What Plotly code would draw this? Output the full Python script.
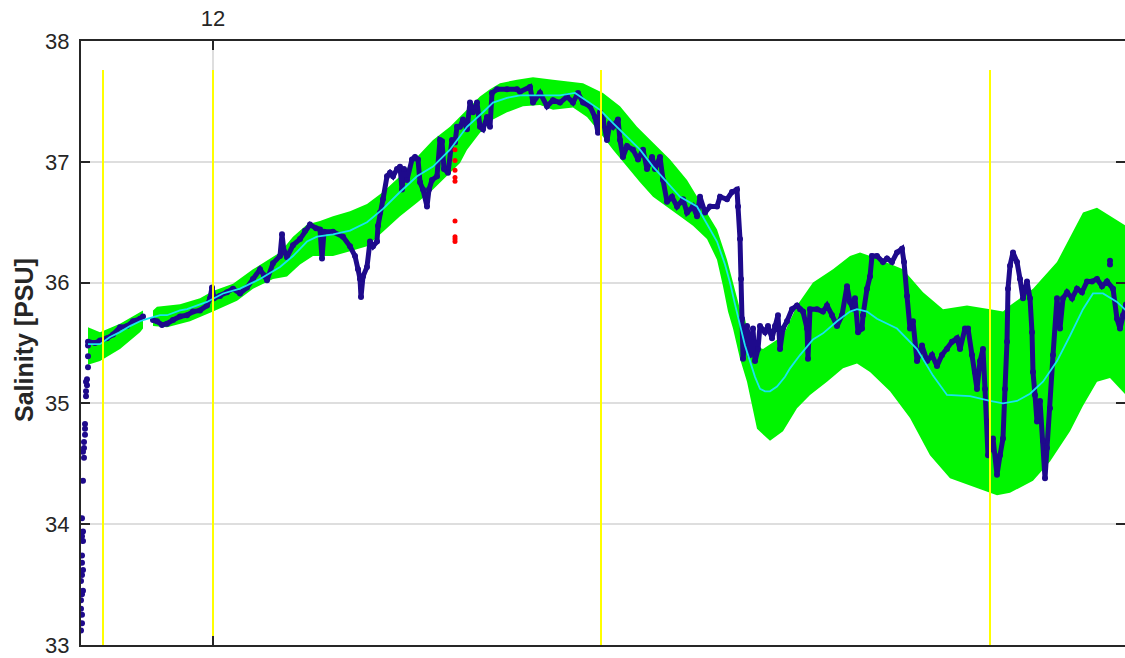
import plotly.graph_objects as go

# ---- along-track position (x) and salinity (PSU) ----

# initial profile samples while the instrument settles
cast_x = [-1.2, -1.1, -1.1, -1.2, -1.2, -1.1, -1.0, -1.2, -1.1, -1.0, -1.1, -1.1, -1.0, -1.0,
          -1.1, -1.0, -0.9, -0.9, -0.8, -0.8, -0.7, -0.7, -0.6, -0.6, -0.5, -0.5, -0.5,
          -1.1, -1.0, -0.9, -0.8, -0.7]
cast_s = [33.12, 33.18, 33.25, 33.30, 33.37, 33.42, 33.45, 33.53, 33.58, 33.62, 33.68, 33.74, 33.86, 33.94,
          34.05, 34.36, 34.55, 34.63, 34.74, 34.83, 35.06, 35.10, 35.15, 35.20, 35.30, 35.39, 35.48,
          33.90, 34.60, 34.68, 34.79, 35.18]

# underway salinity record (None = data gap)
track_x = [-0.5, 0.2, 0.7, 1.4, 2.0, 2.7, 3.4, 4.0, 4.7, 5.0, None,
           6.0, 6.4, 6.9, 7.4, 8.0, 8.7, 9.4, 10.0, 10.7, 11.4, 11.7, 11.9, 12.1, 12.7, 13.4, 14.0,
           14.7, 15.4, 16.0, 16.7, 17.1, 17.4, 18.0, 18.7, 18.9, 19.1, 19.4, 20.0, 20.7, 21.2, 21.7,
           22.3, 22.7, 22.9, 23.1, 24.0, 25.0, 25.7, 26.2, 26.5, 26.7, 26.8, 27.0, 27.4, 27.7, 28.0,
           28.4, 28.5, 28.7, 29.0, 29.4, 29.7, 30.0, 30.4, 30.7, 30.9, 31.1, 31.4, 31.9, 32.2, 32.5,
           32.7, 33.0, 33.4, 33.6, 33.9, 34.4, 34.7, 34.9, 35.1, 35.5, 35.9, 36.2, 36.4, 36.7, 37.0,
           37.4, 37.7, 38.0, 38.4, 38.7, 39.0, 39.4, 39.7, 39.9, 40.4, 41.4, 42.4, 42.7, 43.7, 44.0,
           44.7, 45.4, 46.0, 46.7, 47.4, 48.0, 48.5, 49.0, 49.7, 50.2, 50.5, 50.7, 51.0, 51.4, 51.7,
           52.0, 52.5, 52.7, 53.0, 53.4, 54.0, 54.5, 55.0, 55.4, 55.9, 56.2, 56.7, 57.0, 57.4, 57.9,
           58.4, 59.0, 59.4, 60.0, 60.4, 60.7, 61.2, 61.7, 62.4, 62.7, 63.4, 63.9, 64.4, 64.5, 64.7,
           64.8, 64.9, 65.0, 65.4, 65.7, 66.0, 66.2, 66.5, 66.7, 67.2, 67.5, 67.9, 68.2, 68.5, 68.7,
           69.0, 69.4, 69.9, 70.4, 70.7, 71.0, 71.4, 71.5, 71.7, 72.4, 73.0, 73.4, 73.9, 74.4, 74.9,
           75.4, 75.7, 76.0, 76.2, 76.5, 76.9, 77.0, 77.4, 77.7, 77.9, 78.4, 79.0, 79.4, 79.9, 80.4,
           80.9, 81.1, 81.4, 81.7, 82.0, 82.4, 82.9, 83.4, 83.9, 84.4, 84.9, 85.4, 85.9, 86.4, 86.7,
           87.2, 87.5, 87.9, 88.2, 88.4, 88.7, 89.0, 89.2, 89.4, 89.5, 90.0, 90.4, 90.7, 91.0, 91.2,
           91.4, 91.5, 91.7, 92.0, 92.4, 92.7, 93.0, 93.4, 93.7, 93.9, 94.0, 94.2, 94.4, 94.7, 95.0,
           95.2, 95.4, 95.7, 96.0, 96.4, 96.7, 97.0, 97.4, 97.9, 98.4, 98.9, 99.4, 99.9, 100.4, 100.9,
           101.4, 102.0, 102.4, 102.7, 103.0, 103.3, 103.6, 104.2, 104.8]
track_s = [35.51, 35.50, 35.52, 35.54, 35.57, 35.63, 35.64, 35.68, 35.70, 35.72, None,
           35.69, 35.68, 35.65, 35.66, 35.69, 35.72, 35.73, 35.76, 35.77, 35.81, 35.87, 35.96, 35.87, 35.89, 35.92, 35.95,
           35.91, 35.96, 36.03, 36.11, 36.06, 36.02, 36.16, 36.22, 36.40, 36.26, 36.21, 36.31, 36.36, 36.43, 36.48,
           36.45, 36.44, 36.20, 36.42, 36.42, 36.38, 36.30, 36.22, 36.11, 36.03, 35.88, 36.05, 36.13, 36.34, 36.30,
           36.34, 36.47, 36.58, 36.69, 36.88, 36.91, 36.88, 36.94, 36.96, 36.77, 36.94, 36.85, 37.02, 37.04, 37.02,
           36.83, 36.77, 36.63, 36.77, 36.85, 36.88, 37.18, 37.17, 36.94, 36.91, 37.18, 37.16, 37.29, 37.29, 37.35,
           37.27, 37.49, 37.41, 37.49, 37.29, 37.27, 37.37, 37.29, 37.57, 37.60, 37.60, 37.60, 37.58, 37.62, 37.49,
           37.57, 37.46, 37.51, 37.49, 37.54, 37.49, 37.57, 37.49, 37.46, 37.37, 37.24, 37.41, 37.35, 37.18, 37.32,
           37.29, 37.35, 37.18, 37.04, 37.13, 37.10, 37.02, 37.10, 36.94, 37.04, 36.94, 37.04, 36.85, 36.67, 36.71,
           36.63, 36.69, 36.58, 36.63, 36.55, 36.71, 36.58, 36.63, 36.63, 36.71, 36.69, 36.75, 36.77, 36.63, 36.36,
           36.03, 35.70, 35.37, 35.64, 35.40, 35.62, 35.35, 35.45, 35.64, 35.59, 35.64, 35.54, 35.64, 35.73, 35.45,
           35.62, 35.68, 35.78, 35.81, 35.78, 35.76, 35.62, 35.37, 35.78, 35.78, 35.76, 35.81, 35.73, 35.64, 35.73,
           35.97, 35.84, 35.78, 35.87, 35.59, 35.62, 35.73, 35.95, 36.05, 36.22, 36.22, 36.17, 36.20, 36.17, 36.25,
           36.28, 36.17, 35.89, 35.62, 35.68, 35.35, 35.48, 35.35, 35.40, 35.31, 35.40, 35.45, 35.51, 35.54, 35.45,
           35.62, 35.62, 35.40, 35.26, 35.12, 35.35, 35.45, 35.12, 34.85, 34.57, 34.71, 34.41, 34.57, 34.71, 35.12,
           35.51, 35.95, 36.14, 36.25, 36.17, 36.03, 35.87, 36.01, 35.87, 35.59, 35.26, 35.07, 34.85, 35.02, 34.69,
           34.38, 34.63, 34.96, 35.40, 35.87, 35.62, 35.87, 35.92, 35.87, 35.95, 35.92, 36.01, 36.01, 36.03, 35.97,
           36.01, 35.95, 35.70, 35.62, 35.73, 35.82, 35.84, 35.86, 35.85]

# isolated outlying samples in the record
spike_x = [101.7, 101.7]
spike_s = [36.18, 36.15]

# smoothed salinity
mean_x = [-0.5, 0.2, 0.7, 1.7, 2.7, 3.7, 4.7, 5.4, 6.7, 7.4, 8.7, 9.4, 10.7, 11.4, 13.0, 14.7, 16.7,
          18.7, 20.0, 21.4, 22.4, 24.0, 25.7, 27.4, 29.0, 30.7, 32.4, 34.0, 35.7, 37.4, 39.0, 40.0,
          41.4, 42.7, 44.7, 46.7, 48.2, 49.4, 50.7, 52.0, 53.4, 54.7, 56.0, 57.4, 58.7, 60.4, 61.4,
          62.4, 63.2, 63.7, 64.2, 64.7, 65.2, 65.7, 66.2, 66.7, 67.2, 67.7, 68.4, 69.2, 69.7, 70.7,
          72.0, 72.4, 73.0, 74.4, 75.7, 76.4, 77.4, 78.4, 80.4, 82.4, 84.0, 85.4, 87.7, 89.7, 91.0,
          92.4, 93.7, 95.0, 96.4, 97.7, 99.0, 100.0, 101.0, 102.4, 103.3, 104.8]
mean_s = [35.49, 35.49, 35.49, 35.55, 35.59, 35.64, 35.68, 35.70, 35.73, 35.73, 35.77, 35.78, 35.82, 35.84, 35.91, 35.95, 36.03,
          36.13, 36.22, 36.34, 36.38, 36.40, 36.43, 36.50, 36.61, 36.75, 36.88, 36.96, 37.10, 37.29, 37.41, 37.49,
          37.53, 37.55, 37.55, 37.55, 37.57, 37.50, 37.43, 37.32, 37.21, 37.10, 36.96, 36.83, 36.71, 36.63, 36.48,
          36.34, 36.15, 36.00, 35.82, 35.64, 35.48, 35.35, 35.22, 35.12, 35.10, 35.10, 35.14, 35.22, 35.29, 35.40,
          35.53, 35.55, 35.58, 35.68, 35.76, 35.78, 35.76, 35.70, 35.62, 35.45, 35.23, 35.07, 35.06, 35.02, 35.00,
          35.02, 35.08, 35.18, 35.35, 35.56, 35.78, 35.91, 35.91, 35.84, 35.77, 35.70]

# envelope around the smoothed salinity (None = data gap)
upper_x = [-0.5, 0.7, 2.7, 4.7, 5.0, None,
           6.0, 6.4, 8.7, 10.7, 12.0, 14.0, 16.0, 18.7, 20.0, 21.4, 22.7, 24.0, 25.7, 27.4, 29.0,
           30.7, 32.4, 34.0, 35.7, 37.4, 38.7, 39.7, 40.7, 42.4, 44.0, 46.0, 49.0, 51.0, 52.7, 54.4,
           56.0, 57.7, 59.4, 61.0, 62.4, 63.4, 64.0, 64.7, 65.2, 65.7, 67.0, 69.0, 70.4, 72.0, 74.0,
           75.7, 76.7, 78.4, 81.0, 83.0, 85.0, 87.4, 89.7, 91.0, 91.7, 94.0, 96.4, 98.0, 99.0, 100.4,
           101.7, 103.3, 104.8]
upper_s = [35.63, 35.59, 35.66, 35.76, 35.77, None,
           35.77, 35.80, 35.82, 35.87, 35.93, 35.99, 36.11, 36.25, 36.38, 36.48, 36.51, 36.55, 36.59, 36.65, 36.75,
           36.88, 37.04, 37.18, 37.29, 37.43, 37.54, 37.60, 37.65, 37.68, 37.70, 37.68, 37.65, 37.57, 37.46, 37.29,
           37.16, 37.02, 36.85, 36.63, 36.44, 36.19, 35.99, 35.78, 35.70, 35.49, 35.45, 35.56, 35.81, 36.00, 36.11,
           36.22, 36.25, 36.20, 36.11, 35.92, 35.78, 35.81, 35.78, 35.76, 35.81, 35.95, 36.17, 36.42, 36.58, 36.62,
           36.55, 36.47, 36.40]
lower_x = [-0.5, 0.7, 2.7, 4.7, 5.0, None,
           6.0, 7.4, 9.7, 12.0, 14.4, 16.0, 18.0, 19.4, 20.7, 22.0, 24.0, 25.7, 27.4, 29.0, 30.7,
           32.4, 34.0, 35.7, 36.7, 37.4, 38.7, 40.0, 41.4, 43.0, 44.7, 46.0, 48.0, 49.4, 50.7, 52.0,
           53.4, 54.7, 56.0, 57.4, 58.7, 60.0, 61.4, 62.4, 63.0, 63.5, 64.0, 64.7, 65.4, 66.4, 67.7,
           69.0, 70.4, 71.7, 73.4, 75.0, 76.4, 77.7, 79.7, 81.7, 83.7, 85.7, 88.4, 90.4, 91.7, 94.0,
           95.7, 97.7, 99.0, 100.4, 101.7, 103.3, 104.8]
lower_s = [35.32, 35.35, 35.45, 35.59, 35.62, None,
           35.64, 35.63, 35.68, 35.76, 35.85, 35.95, 36.03, 36.05, 36.15, 36.22, 36.22, 36.26, 36.30, 36.42, 36.55,
           36.66, 36.77, 36.91, 36.99, 37.10, 37.24, 37.35, 37.41, 37.46, 37.47, 37.43, 37.45, 37.37, 37.24, 37.10,
           36.96, 36.83, 36.71, 36.63, 36.55, 36.47, 36.36, 36.19, 35.97, 35.76, 35.62, 35.37, 35.18, 34.79, 34.69,
           34.77, 34.96, 35.07, 35.18, 35.29, 35.33, 35.26, 35.10, 34.88, 34.57, 34.38, 34.30, 34.24, 34.26, 34.36,
           34.52, 34.77, 34.98, 35.18, 35.21, 35.07, 34.98]

# flagged samples
flag_x = [36.2, 36.2, 36.2, 36.2, 36.2, 36.2, 36.2, 36.2, 36.2]
flag_s = [37.10, 37.01, 36.93, 36.87, 36.84, 36.51, 36.38, 36.36, 36.34]

# event markers along the track
marker_x = [1.0, 12.0, 50.8, 89.7]
marker_top = 37.76

Y_TICKS = [33, 34, 35, 36, 37, 38]
X_TICKS = [12]
X_TICKTEXT = ["12"]
X_RANGE = [-1.2, 104.7]
Y_RANGE = [33, 38]
RIGHT_TICK_POS = 0.9858  # paper position of the right-hand tick column

NAVY = "#1e0a8c"
GREEN = "#00f500"
CYAN = "#19e3f0"
AXIS = "#262626"
GRID = "#dedede"
FONT = "Liberation Sans, Arial, Helvetica, sans-serif"


def segments(xs, ys):
    out, cx, cy = [], [], []
    for a, b in zip(xs, ys):
        if a is None:
            out.append((cx, cy))
            cx, cy = [], []
        else:
            cx.append(a)
            cy.append(b)
    out.append((cx, cy))
    return out


fig = go.Figure()

# envelope band, one closed polygon per data segment
for (ux, us), (lx, ls) in zip(segments(upper_x, upper_s), segments(lower_x, lower_s)):
    fig.add_trace(go.Scatter(
        x=ux + lx[::-1], y=us + ls[::-1], mode="lines", fill="toself",
        fillcolor=GREEN, line=dict(width=0, color=GREEN), hoverinfo="skip", showlegend=False))

# initial samples
fig.add_trace(go.Scatter(x=cast_x, y=cast_s, mode="markers",
                         marker=dict(color=NAVY, size=6), showlegend=False))

# salinity record
fig.add_trace(go.Scatter(x=track_x, y=track_s, mode="lines+markers", connectgaps=False,
                         line=dict(color=NAVY, width=5), marker=dict(color=NAVY, size=6),
                         showlegend=False))
fig.add_trace(go.Scatter(x=spike_x, y=spike_s, mode="markers",
                         marker=dict(color=NAVY, size=6), showlegend=False))

# smoothed line
fig.add_trace(go.Scatter(x=mean_x, y=mean_s, mode="lines",
                         line=dict(color=CYAN, width=1.8), showlegend=False))

# flagged samples
fig.add_trace(go.Scatter(x=flag_x, y=flag_s, mode="markers",
                         marker=dict(color="#ff0000", size=5), showlegend=False))

# vertical event markers
vx, vy = [], []
for m in marker_x:
    vx += [m, m, None]
    vy += [Y_RANGE[0], marker_top, None]
fig.add_trace(go.Scatter(x=vx, y=vy, mode="lines", line=dict(color="#ffff00", width=2),
                         hoverinfo="skip", showlegend=False))

# empty trace so the right-hand tick column is drawn
fig.add_trace(go.Scatter(x=[None], y=[None], yaxis="y2", showlegend=False, hoverinfo="skip"))

tick_style = dict(ticks="inside", ticklen=9, tickwidth=1.5, tickcolor=AXIS,
                  tickfont=dict(family=FONT, size=22, color=AXIS))

# the axes box runs past the right edge of the page; only the left part is shown
fig.update_layout(
    width=1140, height=658,
    margin=dict(l=81, r=0, t=41, b=11),
    paper_bgcolor="white", plot_bgcolor="white",
    xaxis=dict(side="top", range=X_RANGE, tickmode="array", tickvals=X_TICKS, ticktext=X_TICKTEXT,
               showline=True, linecolor=AXIS, linewidth=2, mirror="ticks",
               showgrid=True, gridcolor=GRID, gridwidth=1.5, zeroline=False,
               ticklabelstandoff=4, ticklabeloverflow="allow", **tick_style),
    yaxis=dict(range=Y_RANGE, tickmode="array", tickvals=Y_TICKS,
               showline=True, linecolor=AXIS, linewidth=2, mirror=False,
               showgrid=True, gridcolor=GRID, gridwidth=1.5, zeroline=False,
               ticklabelstandoff=5, ticklabeloverflow="allow", **tick_style),
    yaxis2=dict(overlaying="y", side="right", anchor="free", position=RIGHT_TICK_POS,
                range=Y_RANGE, tickmode="array", tickvals=Y_TICKS,
                showticklabels=False, showline=False, showgrid=False, zeroline=False,
                ticks="inside", ticklen=9, tickwidth=1.5, tickcolor=AXIS),
    annotations=[dict(text="<b>Salinity [PSU]</b>", textangle=-90, xref="paper", yref="paper",
                      x=-0.0538, y=0.505, xanchor="center", yanchor="middle", showarrow=False,
                      font=dict(family=FONT, size=25, color=AXIS))],
    font=dict(family=FONT),
)

# keep the page clipped to the window (no scrollbars)
page_fit = (
    "document.documentElement.style.overflow='hidden';"
    "document.body.style.margin='0';"
    "document.body.style.overflow='hidden';"
)

fig.write_html("out.html", post_script=page_fit)
